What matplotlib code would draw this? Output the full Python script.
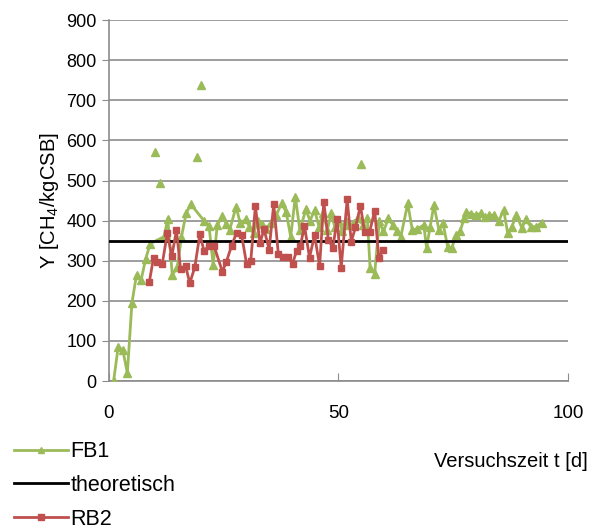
import numpy as np
import matplotlib.pyplot as plt
from matplotlib.lines import Line2D

plt.rcParams['font.family'] = ['Liberation Sans', 'DejaVu Sans']

# FB1 - Versuchszeit [d] und Ausbeute
fb1_t = [1, 2, 3, 4, 5, 6, 7, 8, 9, 12, 12.8, 13.8, 14.9, 15.8, 16.8, 17.8,
         20.7, 21.8, 22.7, 23.6, 24.7, 25.6, 26.3, 27.7, 28.6, 29.8, 30.6, 31.5,
         32.4, 33.3, 34.2, 35.2, 36.5, 37.6, 38.6, 39.6, 40.6, 41.6, 42.9, 43.8,
         44.8, 45.8, 46.6, 47.6, 48.4, 49.2, 50.0, 50.8, 51.6, 52.4, 53.3, 54.2,
         55.3, 56.3, 56.9, 57.9, 58.9, 59.8, 60.9, 61.8, 62.7, 63.6, 65.1, 66.1,
         67.2, 68.6, 69.2, 70.0, 70.8, 71.9, 72.8, 73.8, 74.7, 75.6, 76.5, 77.4,
         77.9, 78.9, 80.0, 81.0, 82.0, 82.9, 83.9, 84.9, 86.0, 86.9, 87.8, 88.8,
         90.0, 90.8, 91.9, 93.0, 94.3]
fb1_y = [0, 85, 78, 20, 195, 265, 252, 305, 343, 360, 405, 264, 285, 360, 418, 441,
         400, 387, 289, 389, 411, 392, 377, 435, 393, 403, 385, 368,
         400, 392, 378, 395, 415, 443, 422, 360, 460, 376, 428, 400,
         426, 384, 420, 377, 418, 385, 402, 375, 398, 388, 395, 406,
         390, 406, 281, 268, 398, 373, 406, 390, 373, 360, 443, 377,
         380, 389, 333, 385, 439, 377, 393, 335, 331, 364, 373, 406,
         422, 417, 414, 418, 408, 414, 414, 398, 427, 368, 385, 414,
         381, 404, 385, 385, 395]

# FB1 Ausreisser (ohne Verbindungslinie)
fb1_out_t = [10, 11.1, 19.2, 20, 55]
fb1_out_y = [572, 493, 558, 738, 541]

# RB2
rb2_t = [8.8, 9.7, 10.5, 11.6, 12.7, 13.7, 14.7, 15.6, 16.7, 17.6, 18.7, 19.8,
         20.7, 21.8, 22.9, 24.7, 25.6, 26.7, 27.8, 28.9, 30.0, 30.9, 31.9, 32.9,
         33.8, 34.9, 35.9, 36.9, 38.0, 39.1, 40.0, 40.9, 41.7, 42.6, 43.7, 44.8,
         45.9, 46.8, 47.8, 48.8, 49.7, 50.6, 51.9, 52.8, 53.7, 54.8, 55.7, 56.8,
         57.9, 58.8, 59.8]
rb2_y = [248, 307, 296, 292, 368, 312, 376, 279, 287, 244, 284, 366,
         325, 337, 337, 273, 298, 337, 370, 364, 291, 300, 436, 345,
         378, 328, 441, 317, 310, 310, 293, 325, 337, 387, 308, 364,
         287, 447, 352, 333, 403, 283, 453, 348, 383, 437, 372, 372,
         425, 308, 328]

theo_t = [0, 100]
theo_y = [350, 350]

green = '#9BBB59'
red = '#C0504D'

fig = plt.figure(figsize=(5.94, 5.30), dpi=100)
ax = fig.add_axes([0.1835, 0.281, 0.7725, 0.681])

ax.plot(fb1_t, fb1_y, color=green, lw=2, marker='^', ms=5.5, zorder=3)
ax.plot(fb1_out_t, fb1_out_y, ls='none', color=green, marker='^', ms=5.5, zorder=3)
ax.plot(theo_t, theo_y, color='black', lw=2, zorder=4)
ax.plot(rb2_t, rb2_y, color=red, lw=2, marker='s', ms=5, zorder=5)

ax.set_xlim(0, 100)
ax.set_ylim(0, 900)
ax.set_xticks([0, 50, 100])
ax.set_yticks(range(0, 901, 100))
ax.grid(axis='y', color='#8c8c8c', lw=1.2)
ax.set_axisbelow(True)
for s in ['top', 'right']:
    ax.spines[s].set_visible(False)
for s in ['left', 'bottom']:
    ax.spines[s].set_color('#8c8c8c')
    ax.spines[s].set_linewidth(1.2)
ax.tick_params(axis='y', direction='out', length=5, color='#8c8c8c', labelsize=13, pad=4)
ax.tick_params(axis='x', direction='in', length=6, color='#8c8c8c', labelsize=13.5, pad=17)

ax.set_ylabel('Y [CH$_{\\mathregular{4}}$/kgCSB]', fontsize=14.5, labelpad=4)
fig.text(0.99, 0.130, 'Versuchszeit t [d]', fontsize=14.5, ha='right', va='center')

handles = [
    Line2D([], [], color=green, lw=2, marker='^', ms=4),
    Line2D([], [], color='black', lw=2),
    Line2D([], [], color=red, lw=2, marker='s', ms=4),
]
fig.legend(handles, ['FB1', 'theoretisch', 'RB2'], loc='upper left',
           bbox_to_anchor=(0.009, 0.184), frameon=False, fontsize=15.5,
           handlelength=2.5, handletextpad=0.12, labelspacing=0.6,
           borderaxespad=0)

fig.savefig('out.png', dpi=100)
